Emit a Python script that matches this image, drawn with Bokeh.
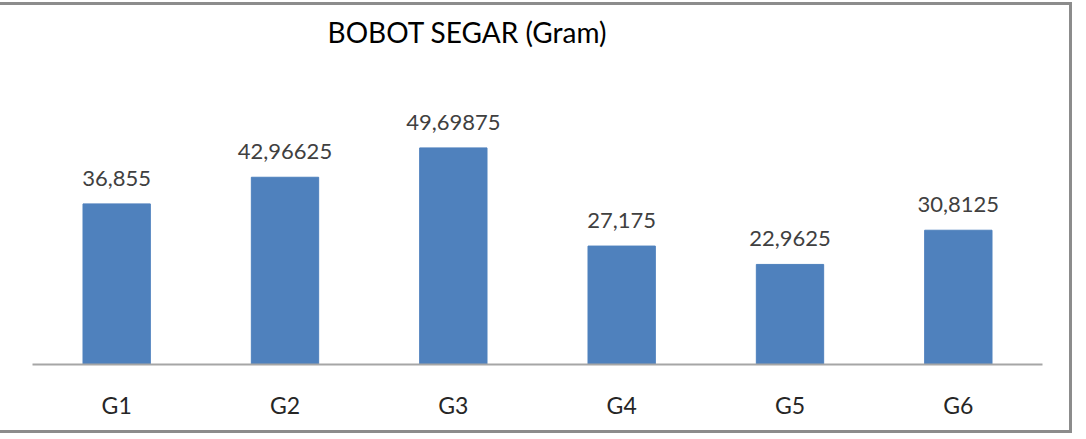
from bokeh.plotting import figure
from bokeh.models import ColumnDataSource, LabelSet, Label
from bokeh.core.properties import value
from bokeh.embed import file_html
from bokeh.resources import INLINE

categories = ["G1", "G2", "G3", "G4", "G5", "G6"]
values = [36.855, 42.96625, 49.69875, 27.175, 22.9625, 30.8125]
value_labels = ["36,855", "42,96625", "49,69875", "27,175", "22,9625", "30,8125"]
title_text = "BOBOT SEGAR (Gram)"

src = ColumnDataSource(dict(cat=categories, val=values, lab=value_labels))

# value axis 0..60 spans 260 px; the range is extended upward so the title sits in the frame
p = figure(x_range=categories, y_range=(0, 82.38), width=1072, height=431,
           output_backend="svg", toolbar_location=None,
           min_border_left=32, min_border_right=30, min_border_top=0, min_border_bottom=72,
           margin=(2, 0, 0, 0))
p.styles = {"border-top": "3px solid #8c8c8c", "border-right": "3px solid #8c8c8c",
            "border-bottom": "3px solid #8c8c8c"}
p.outline_line_color = None
p.background_fill_color = "white"
p.border_fill_color = "white"

p.vbar(x="cat", top="val", width=0.4, source=src, fill_color="#4F81BD", line_color="#4F81BD")

labels = LabelSet(x="cat", y="val", text="lab", source=src, text_align="center",
                  text_baseline="alphabetic", y_offset=18, text_font=value("Lato"),
                  text_font_size=value("22px"), text_color=value("#404040"))
p.add_layout(labels)

p.yaxis.visible = False
p.xgrid.grid_line_color = None
p.ygrid.grid_line_color = None
p.xaxis.axis_line_color = "#a6a6a6"
p.xaxis.axis_line_width = 2
p.xaxis.major_tick_line_color = None
p.xaxis.minor_tick_line_color = None
p.xaxis.major_label_text_font = "Lato"
p.xaxis.major_label_text_font_size = "23px"
p.xaxis.major_label_text_color = "#262626"
p.xaxis.major_label_standoff = 20

title = Label(x=2.584, y=76.4, text=title_text, text_align="center", text_baseline="middle",
              text_font="Lato", text_font_size="28px", text_color="black")
p.add_layout(title)

open("out.html", "w").write(file_html(p, INLINE))
